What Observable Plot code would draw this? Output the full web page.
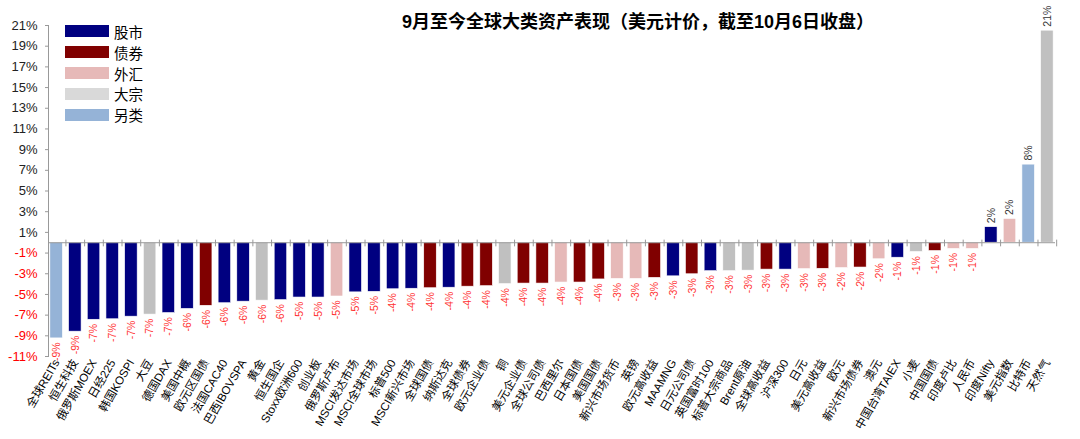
<!DOCTYPE html>
<html>
<head>
<meta charset="utf-8">
<script src="https://cdn.jsdelivr.net/npm/d3@7"></script>
<script src="https://cdn.jsdelivr.net/npm/@observablehq/plot@0.6"></script>
<style>
  html, body { margin: 0; padding: 0; background: #fff; }
  #wrap { position: relative; width: 1080px; height: 439px; font-family: "Liberation Sans", Arial, "Noto Sans CJK SC", sans-serif; }
  #title { position: absolute; left: 0; width: 1276px; top: 7px; text-align: center; font-size: 18px; font-weight: bold; color: #000; font-family: "Liberation Sans", Arial, "Noto Sans CJK SC", sans-serif; }
  #legend { position: absolute; left: 65px; top: 21px; }
  .lg { display: flex; align-items: center; height: 20.8px; font-size: 14.5px; color: #000; }
  .sw { width: 44px; height: 12px; margin-right: 5px; box-sizing: border-box; }
</style>
</head>
<body>
<div id="wrap">
  <div id="chart"></div>
  <div id="title">9月至今全球大类资产表现（美元计价，截至10月6日收盘）</div>
  <div id="legend"></div>
</div>
<script>
const names = ["全球REITs","恒生科技","俄罗斯MOEX","日经225","韩国KOSPI","大豆","德国DAX","美国中概","欧元区国债","法国CAC40","巴西IBOVSPA","黄金","恒生国企","Stoxx欧洲600","创业板","俄罗斯卢布","MSCI发达市场","MSCI全球市场","标普500","MSCI新兴市场","全球国债","纳斯达克","全球债券","欧元企业债","铜","美元企业债","全球公司债","巴西里尔","日本国债","美国国债","新兴市场货币","英镑","欧元高收益","MAAMNG","日元公司债","英国富时100","标普大宗商品","Brent原油","全球高收益","沪深300","日元","美元高收益","欧元","新兴市场债券","澳元","中国台湾TAIEX","小麦","中国国债","印度卢比","人民币","印度Nifty","美元指数","比特币","天然气"];
const values = [-9.25,-8.6,-7.45,-7.4,-7.15,-6.95,-6.8,-6.4,-6.1,-5.85,-5.7,-5.6,-5.55,-5.3,-5.3,-5.2,-4.8,-4.75,-4.5,-4.45,-4.4,-4.35,-4.25,-4.2,-4.0,-3.95,-3.95,-3.85,-3.85,-3.55,-3.5,-3.5,-3.4,-3.25,-3.05,-2.75,-2.75,-2.7,-2.6,-2.6,-2.55,-2.52,-2.45,-2.4,-1.6,-1.45,-0.9,-0.8,-0.6,-0.6,1.5,2.3,7.55,20.5];
const classes = ["另类","股市","股市","股市","股市","大宗","股市","股市","债券","股市","股市","大宗","股市","股市","股市","外汇","股市","股市","股市","股市","债券","股市","债券","债券","大宗","债券","债券","外汇","债券","债券","外汇","外汇","债券","股市","债券","股市","大宗","大宗","债券","股市","外汇","债券","外汇","债券","外汇","股市","大宗","债券","外汇","外汇","股市","外汇","另类","大宗"];
const classNames = ["股市","债券","外汇","大宗","另类"];
const classColors = ["#000080","#800000","#E6B9B8","#C0C0C0","#95B3D7"];
const legendColors = ["#000080","#800000","#E6B9B8","#D9D9D9","#95B3D7"];
const yTicks = [21,19,17,15,13,11,9,7,5,3,1,-1,-3,-5,-7,-9,-11];

const data = names.map((n, i) => ({name: n, value: values[i], cls: classes[i]}));
const colorOf = Object.fromEntries(classNames.map((c, i) => [c, classColors[i]]));
const neg = data.filter(d => d.value < 0);
const pos = data.filter(d => d.value >= 0);

const font = "'Liberation Sans', Arial, 'Noto Sans CJK SC', sans-serif";
const chart = Plot.plot({
  width: 1080,
  height: 439,
  marginLeft: 48,
  marginRight: 25,
  marginTop: 25,
  marginBottom: 83,
  style: {fontFamily: font, background: "#fff", overflow: "visible"},
  x: {domain: names, paddingInner: 0.33, paddingOuter: 0.1, label: null},
  y: {domain: [-11, 21], label: null},
  marks: [
    Plot.frame({anchor: "left", stroke: "#999"}),
    Plot.barY(data, {x: "name", y: "value", fill: d => colorOf[d.cls], stroke: "#fff", strokeWidth: 0.6}),
    Plot.ruleY([0], {stroke: "#999"}),
    Plot.ruleX(data, {x: "name", y1: 0.25, y2: -0.4, dx: 9.3, stroke: "#999"}),
    Plot.axisY(yTicks, {
      tickSize: 3, tickPadding: 8, tickFormat: d => d + "%", fontSize: 13,
      stroke: "#999",
      fill: d => d < 0 ? "#FF0000" : "#222", label: null
    }),
    Plot.axisX({tickSize: 0, tickPadding: 4, tickRotate: -60, fontSize: 11.5, fill: "#000", label: null}),
    Plot.text(neg, {
      x: "name", y: "value",
      text: d => Math.round(d.value) + "%",
      rotate: -90, textAnchor: "end", dy: 4,
      fill: "#FF3333", fontSize: 10.5
    }),
    Plot.text(pos, {
      x: "name", y: "value",
      text: d => Math.round(d.value) + "%",
      rotate: -90, textAnchor: "start", dy: -4,
      fill: "#333", fontSize: 10.5
    })
  ]
});
document.getElementById("chart").appendChild(chart);

const lg = document.getElementById("legend");
classNames.forEach((c, i) => {
  const row = document.createElement("div");
  row.className = "lg";
  row.innerHTML = `<div class="sw" style="background:${legendColors[i]}"></div><span>${c}</span>`;
  lg.appendChild(row);
});
</script>
</body>
</html>
